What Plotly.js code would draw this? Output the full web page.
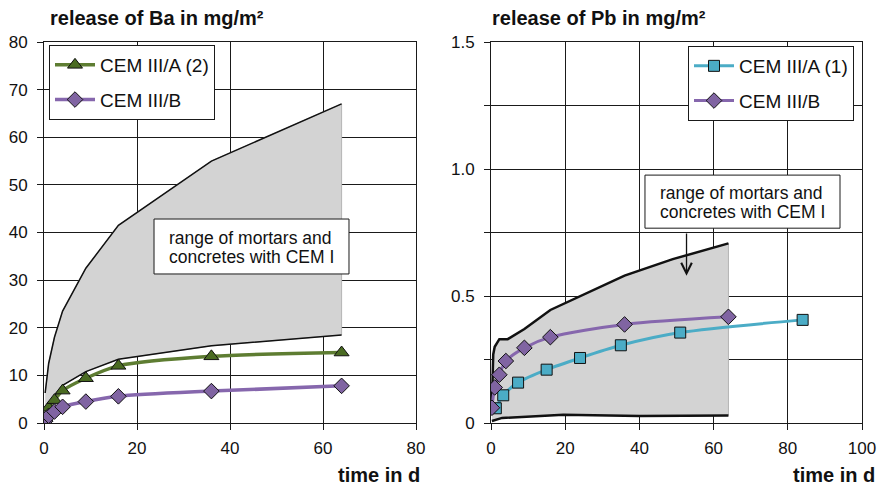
<!DOCTYPE html>
<html>
<head>
<meta charset="utf-8">
<script src="https://cdn.plot.ly/plotly-3.0.1.min.js"></script>
<style>html,body{margin:0;padding:0;background:#fff;}#chart{width:882px;height:485px;}</style>
</head>
<body>
<div id="chart"></div>
<script>
// ---- Left chart: Ba ----
const baTime = [0.25, 1, 2.25, 4, 9, 16, 36, 64];
const baCEM3A2 = [1.0, 3.2, 4.8, 6.8, 9.4, 12.0, 14.0, 14.8];
const baCEM3B = [0.4, 1.5, 2.4, 3.4, 4.5, 5.6, 6.7, 7.8];
const baRangeUpX = [0.25, 1, 2.25, 4, 9, 16, 36, 64];
const baRangeUpY = [6.3, 12.5, 18, 23.5, 32.5, 41.5, 55, 67];
const baRangeLoX = [0.25, 1, 2.25, 4, 9, 16, 36, 64];
const baRangeLoY = [1.0, 3.6, 5.6, 7.9, 10.8, 13.4, 16.2, 18.5];

// ---- Right chart: Pb ----
const pbTimeB = [0.25, 1, 2.25, 4, 9, 16, 36, 64];
const pbCEM3B = [0.06, 0.14, 0.19, 0.244, 0.296, 0.338, 0.388, 0.418];
const pbTimeA1 = [1.3, 3.3, 7.3, 15, 24, 35, 51, 84];
const pbCEM3A1 = [0.058, 0.109, 0.159, 0.21, 0.256, 0.306, 0.356, 0.406];
const pbRangeUpX = [0.25, 0.6, 1, 2.25, 4.5, 9, 16, 24, 36, 49, 64];
const pbRangeUpY = [0.07, 0.27, 0.3, 0.33, 0.33, 0.37, 0.445, 0.5, 0.58, 0.645, 0.707];
const pbRangeLoX = [0.25, 3, 19.5, 40, 64];
const pbRangeLoY = [0.008, 0.02, 0.032, 0.028, 0.03];

const yTicksPb = [0, 0.25, 0.5, 0.75, 1.0, 1.25, 1.5];
const yTickTextPb = ['0', '', '0.5', '', '1.0', '', '1.5'];

const rangeLine1 = 'range of mortars and';
const rangeLine2 = 'concretes with CEM I';

const FONT = 'Liberation Sans, Arial, sans-serif';
const GREEN = '#5e7d32';
const GREEN_M = '#4a6b22';
const PURPLE = '#8667ad';
const PURPLE_M = '#8064a2';
const CYAN = '#4bacc6';
const GRAY = 'rgb(211,211,211)';

function polyX(ux, lx) { return ux.concat(lx.slice().reverse()); }
function polyY(uy, ly) { return uy.concat(ly.slice().reverse()); }

const traces = [
  {x: polyX(baRangeUpX, baRangeLoX), y: polyY(baRangeUpY, baRangeLoY), xaxis: 'x', yaxis: 'y',
   mode: 'lines', fill: 'toself', fillcolor: GRAY, line: {color: '#b4b4b4', width: 1}, showlegend: false, hoverinfo: 'skip'},
  {x: baRangeUpX, y: baRangeUpY, xaxis: 'x', yaxis: 'y', mode: 'lines', line: {color: '#111', width: 1.5}, showlegend: false},
  {x: baRangeLoX, y: baRangeLoY, xaxis: 'x', yaxis: 'y', mode: 'lines', line: {color: '#111', width: 1.5}, showlegend: false},
  {x: baTime, y: baCEM3A2, xaxis: 'x', yaxis: 'y', name: 'CEM III/A (2)', mode: 'lines+markers', legend: 'legend', legendgroup: 'a',
   line: {color: GREEN, width: 3.5, shape: 'spline', smoothing: 0.8},
   marker: {symbol: 'triangle-up', size: 13, color: GREEN_M, line: {color: '#111', width: 1}}},
  {x: baTime, y: baCEM3B, xaxis: 'x', yaxis: 'y', name: 'CEM III/B', mode: 'lines+markers', legend: 'legend', legendgroup: 'b',
   line: {color: PURPLE, width: 3.5, shape: 'spline', smoothing: 0.8},
   marker: {symbol: 'diamond', size: 12, color: PURPLE_M, line: {color: '#111', width: 1}}},

  {x: polyX(pbRangeUpX, pbRangeLoX), y: polyY(pbRangeUpY, pbRangeLoY), xaxis: 'x2', yaxis: 'y2',
   mode: 'lines', fill: 'toself', fillcolor: GRAY, line: {color: '#b4b4b4', width: 1}, showlegend: false, hoverinfo: 'skip'},
  {x: pbRangeUpX, y: pbRangeUpY, xaxis: 'x2', yaxis: 'y2', mode: 'lines', line: {color: '#111', width: 2.5}, showlegend: false},
  {x: pbRangeLoX, y: pbRangeLoY, xaxis: 'x2', yaxis: 'y2', mode: 'lines', line: {color: '#111', width: 2.5}, showlegend: false},
  {x: pbTimeA1, y: pbCEM3A1, xaxis: 'x2', yaxis: 'y2', name: 'CEM III/A (1)', mode: 'lines+markers', legend: 'legend2', legendgroup: 'c',
   line: {color: CYAN, width: 3, shape: 'spline', smoothing: 0.8},
   marker: {symbol: 'square', size: 11, color: CYAN, line: {color: '#111', width: 1}}},
  {x: pbTimeB, y: pbCEM3B, xaxis: 'x2', yaxis: 'y2', name: 'CEM III/B', mode: 'lines+markers', legend: 'legend2', legendgroup: 'd',
   line: {color: PURPLE, width: 3, shape: 'spline', smoothing: 0.8},
   marker: {symbol: 'diamond', size: 12, color: PURPLE_M, line: {color: '#111', width: 1}}}
];

const axBase = {
  showgrid: true, gridcolor: '#1a1a1a', gridwidth: 1,
  showline: true, linecolor: '#1a1a1a', linewidth: 1, mirror: true,
  ticks: 'outside', ticklen: 6, tickcolor: '#1a1a1a', tickwidth: 1,
  zeroline: false, fixedrange: true,
  tickfont: {family: FONT, size: 17, color: '#111'}
};

const yDom = [(485 - 423) / 485, (485 - 42) / 485];

const legendBase = {
  bgcolor: '#fff', bordercolor: '#1a1a1a', borderwidth: 1,
  font: {family: FONT, size: 19, color: '#111'},
  xanchor: 'left', yanchor: 'top', tracegroupgap: 7, traceorder: 'grouped', itemwidth: 40
};

const textFont = {family: FONT, size: 17.5, color: '#111'};
const boxLine = {color: '#1a1a1a', width: 1};

const layout = {
  width: 882, height: 485,
  margin: {l: 0, r: 0, t: 0, b: 0},
  paper_bgcolor: '#fff', plot_bgcolor: '#fff',
  font: {family: FONT, color: '#111'},
  xaxis: Object.assign({}, axBase, {domain: [44 / 882, 416 / 882], range: [0, 80], dtick: 20, tick0: 0, anchor: 'y', ticklabelstandoff: 4}),
  yaxis: Object.assign({}, axBase, {domain: yDom, range: [0, 80], dtick: 10, tick0: 0, anchor: 'x', ticklabelstandoff: 6}),
  xaxis2: Object.assign({}, axBase, {domain: [491 / 882, 862 / 882], range: [0, 100], dtick: 20, tick0: 0, anchor: 'y2', ticklabelstandoff: 4}),
  yaxis2: Object.assign({}, axBase, {domain: yDom, range: [0, 1.5], tickmode: 'array', tickvals: yTicksPb, ticktext: yTickTextPb, anchor: 'x2', ticklabelstandoff: 6}),
  legend: Object.assign({}, legendBase, {x: 49 / 882, y: (485 - 45) / 485}),
  legend2: Object.assign({}, legendBase, {x: 688 / 882, y: (485 - 46) / 485}),
  showlegend: true,
  shapes: [
    {type: 'rect', xref: 'x', yref: 'y', x0: 23.66, x1: 65.59, y0: 31.29, y1: 42.83, fillcolor: '#fff', line: boxLine, layer: 'above'},
    {type: 'rect', xref: 'x2', yref: 'y2', x0: 41.5, x1: 94.07, y0: 0.767, y1: 0.976, fillcolor: '#fff', line: boxLine, layer: 'above'}
  ],
  annotations: [
    {xref: 'paper', yref: 'paper', x: 48 / 882, y: (485 - 18) / 485, xanchor: 'left', yanchor: 'middle', showarrow: false,
     text: '<b>release of Ba in mg/m²</b>', font: {family: FONT, size: 20, color: '#111'}},
    {xref: 'paper', yref: 'paper', x: 422 / 882, y: 0, xanchor: 'right', yanchor: 'bottom', yshift: -3, showarrow: false,
     text: '<b>time in d</b>', font: {family: FONT, size: 20, color: '#111'}},
    {xref: 'paper', yref: 'paper', x: 490 / 882, y: (485 - 18) / 485, xanchor: 'left', yanchor: 'middle', showarrow: false,
     text: '<b>release of Pb in mg/m²</b>', font: {family: FONT, size: 20, color: '#111'}},
    {xref: 'paper', yref: 'paper', x: 877 / 882, y: 0, xanchor: 'right', yanchor: 'bottom', yshift: -3, showarrow: false,
     text: '<b>time in d</b>', font: {family: FONT, size: 20, color: '#111'}},
    {xref: 'x', yref: 'y', x: 26.45, y: 38.85, xanchor: 'left', yanchor: 'middle', showarrow: false, text: rangeLine1, font: textFont},
    {xref: 'x', yref: 'y', x: 26.45, y: 34.86, xanchor: 'left', yanchor: 'middle', showarrow: false, text: rangeLine2, font: textFont},
    {xref: 'x2', yref: 'y2', x: 45.1, y: 0.906, xanchor: 'left', yanchor: 'middle', showarrow: false, text: rangeLine1, font: textFont},
    {xref: 'x2', yref: 'y2', x: 45.1, y: 0.829, xanchor: 'left', yanchor: 'middle', showarrow: false, text: rangeLine2, font: textFont},
    {xref: 'x2', yref: 'y2', x: 52.7, y: 0.58, axref: 'x2', ayref: 'y2', ax: 52.7, ay: 0.752, text: '',
     showarrow: true, arrowhead: 5, arrowsize: 1.6, arrowwidth: 1.3, arrowcolor: '#111'}
  ]
};

Plotly.newPlot('chart', traces, layout, {displayModeBar: false, staticPlot: true});
</script>
</body>
</html>
